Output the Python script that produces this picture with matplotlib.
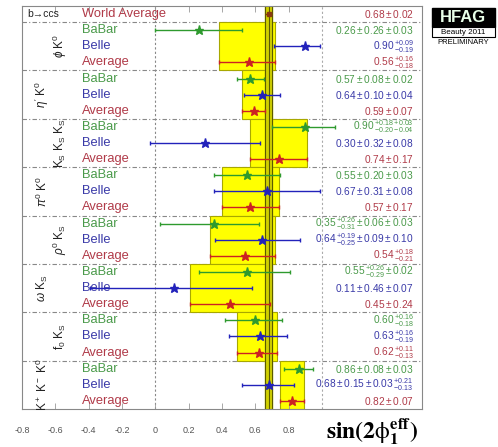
import matplotlib
matplotlib.use("Agg")
import matplotlib.pyplot as plt
import matplotlib.patches as mpatches
import numpy as np

plt.rcParams['font.family'] = ['Liberation Sans', 'DejaVu Sans']
plt.rcParams['mathtext.fontset'] = 'custom'
plt.rcParams['mathtext.rm'] = 'Liberation Sans'
plt.rcParams['mathtext.it'] = 'Liberation Sans:italic'
plt.rcParams['mathtext.bf'] = 'Liberation Sans:bold'

# ---------------- data ----------------
world_avg = 0.68
world_err = 0.02
world_text = r"$0.68 \pm 0.02$"

groups = [r"$\phi\ \mathrm{K}^0$", r"$\eta'\ \mathrm{K}^0$",
          r"$\mathrm{K_S\ K_S\ K_S}$", r"$\pi^0\ \mathrm{K}^0$",
          r"$\rho^0\ \mathrm{K_S}$", r"$\omega\ \mathrm{K_S}$",
          r"$\mathrm{f_0\ K_S}$", r"$\mathrm{K^+\ K^-\ K^0}$"]

babar_val = [0.26, 0.57, 0.90, 0.55, 0.35, 0.55, 0.60, 0.86]
babar_lo  = [0.26, 0.08, 0.20, 0.20, 0.32, 0.29, 0.18, 0.085]
babar_hi  = [0.26, 0.08, 0.18, 0.20, 0.27, 0.26, 0.16, 0.085]

belle_val = [0.90, 0.64, 0.30, 0.67, 0.64, 0.11, 0.63, 0.68]
belle_lo  = [0.19, 0.11, 0.33, 0.32, 0.28, 0.50, 0.19, 0.16]
belle_hi  = [0.09, 0.11, 0.33, 0.32, 0.23, 0.47, 0.16, 0.15]

avg_val = [0.56, 0.59, 0.74, 0.57, 0.54, 0.45, 0.62, 0.82]
avg_lo  = [0.18, 0.07, 0.17, 0.17, 0.21, 0.24, 0.13, 0.07]
avg_hi  = [0.16, 0.07, 0.17, 0.17, 0.18, 0.24, 0.11, 0.07]

babar_text = [r"$0.26 \pm 0.26 \pm 0.03$",
              r"$0.57 \pm 0.08 \pm 0.02$",
              r"$0.90\,^{+0.18}_{-0.20}\,^{+0.03}_{-0.04}$",
              r"$0.55 \pm 0.20 \pm 0.03$",
              r"$0.35\,^{+0.26}_{-0.31} \pm 0.06 \pm 0.03$",
              r"$0.55\,^{+0.26}_{-0.29} \pm 0.02$",
              r"$0.60\,^{+0.16}_{-0.18}$",
              r"$0.86 \pm 0.08 \pm 0.03$"]
belle_text = [r"$0.90\,^{+0.09}_{-0.19}$",
              r"$0.64 \pm 0.10 \pm 0.04$",
              r"$0.30 \pm 0.32 \pm 0.08$",
              r"$0.67 \pm 0.31 \pm 0.08$",
              r"$0.64\,^{+0.19}_{-0.25} \pm 0.09 \pm 0.10$",
              r"$0.11 \pm 0.46 \pm 0.07$",
              r"$0.63\,^{+0.16}_{-0.19}$",
              r"$0.68 \pm 0.15 \pm 0.03\,^{+0.21}_{-0.13}$"]
avg_text = [r"$0.56\,^{+0.16}_{-0.18}$",
            r"$0.59 \pm 0.07$",
            r"$0.74 \pm 0.17$",
            r"$0.57 \pm 0.17$",
            r"$0.54\,^{+0.18}_{-0.21}$",
            r"$0.45 \pm 0.24$",
            r"$0.62\,^{+0.11}_{-0.13}$",
            r"$0.82 \pm 0.07$"]

xticks = [-0.8, -0.6, -0.4, -0.2, 0, 0.2, 0.4, 0.6, 0.8]
xticklabels = ["-0.8", "-0.6", "-0.4", "-0.2", "0", "0.2", "0.4", "0.6", "0.8"]

# ---------------- style ----------------
C_BABAR = '#2e9a2e'
C_BELLE = '#2222bb'
C_AVG = '#cc2222'
T_BABAR = '#4a9a4a'
T_BELLE = '#3a3aa8'
T_AVG = '#b03a48'

fig = plt.figure(figsize=(4.98, 4.47), dpi=100)
ax = fig.add_axes([0.0442, 0.085, 0.803, 0.9016])
ax.set_xlim(-0.8, 1.6)
ax.set_ylim(24.5, -0.5)

n = len(groups)
rows_babar = np.arange(n) * 3 + 1
rows_belle = rows_babar + 1
rows_avg = rows_babar + 2

# yellow boxes for averages
lo_edges = np.array(avg_val) - np.array(avg_lo)
widths = np.array(avg_lo) + np.array(avg_hi)
ax.barh(rows_belle, widths, left=lo_edges, height=3, color='#ffff00',
        edgecolor='#a8a800', linewidth=0.8, zorder=1)

# world average band
ax.axvspan(world_avg - world_err, world_avg + world_err, color='#d0d000', zorder=2)
for xv in (world_avg - world_err, world_avg, world_avg + world_err):
    ax.axvline(xv, color='#5a5a00', lw=0.8, zorder=2.5)

# reference lines
ax.axvline(0, color='#888888', lw=0.8, ls=(0, (2, 2)), zorder=0.5)
ax.axvline(1.0, color='#aaaaaa', lw=0.8, ls=(0, (2, 2)), zorder=0.5)
for yv in np.arange(n) * 3 + 0.5:
    ax.axhline(yv, color='#888888', lw=0.8, ls=(0, (4, 2, 1, 2)), zorder=0.6)

# measurements
ekw = dict(fmt='*', ms=6.5, lw=1.0, capsize=1.5, zorder=4)
ax.errorbar(babar_val, rows_babar, xerr=[babar_lo, babar_hi], color=C_BABAR, **ekw)
ax.errorbar(belle_val, rows_belle, xerr=[belle_lo, belle_hi], color=C_BELLE, **ekw)
ax.errorbar(avg_val, rows_avg, xerr=[avg_lo, avg_hi], color=C_AVG, **ekw)
ax.errorbar([world_avg], [0], xerr=[[world_err], [world_err]], fmt='s', ms=3,
            color='#8a3a10', lw=1, zorder=4)

# left labels
lab_x = -0.44
fs_lab = 9.3
ax.text(-0.77, 0, "b\u2192ccs", fontsize=7.5, va='center', ha='left', color='#222222')
ax.text(lab_x, 0, "World Average", fontsize=fs_lab, color=T_AVG, va='center', ha='left')
for i in range(n):
    ax.text(lab_x, rows_babar[i], "BaBar", fontsize=fs_lab, color=T_BABAR, va='center')
    ax.text(lab_x, rows_belle[i], "Belle", fontsize=fs_lab, color=T_BELLE, va='center')
    ax.text(lab_x, rows_avg[i], "Average", fontsize=fs_lab, color=T_AVG, va='center')
    gx = -0.57 if i % 2 == 0 else -0.68
    ax.text(gx, rows_belle[i], groups[i], rotation=90, fontsize=8.5, va='center',
            ha='center', color='#222222')

# right numbers
num_x = 1.55
fs_num = 7.3
ax.text(num_x, 0, world_text, fontsize=fs_num, color=T_AVG, ha='right', va='center')
for i in range(n):
    ax.text(num_x, rows_babar[i], babar_text[i], fontsize=fs_num, color=T_BABAR,
            ha='right', va='center')
    ax.text(num_x, rows_belle[i], belle_text[i], fontsize=fs_num, color=T_BELLE,
            ha='right', va='center')
    ax.text(num_x, rows_avg[i], avg_text[i], fontsize=fs_num, color=T_AVG,
            ha='right', va='center')

# axes styling
ax.set_yticks([])
ax.set_xticks(xticks)
ax.set_xticklabels(xticklabels)
ax.tick_params(axis='x', direction='in', length=4, width=0.6, colors='#999999',
               labelcolor='#555555', labelsize=6.5, pad=12, top=True)
for s in ax.spines.values():
    s.set_color('#888888')
    s.set_linewidth(0.8)

# x label
fig.text(0.747, 0.034, r"$\mathbf{sin(2}\mathrm{\phi}_\mathbf{1}^{\mathbf{eff}}\mathbf{)}$",
         fontsize=17, ha='center', va='center', math_fontfamily='stix')

# HFAG logo
fig.add_artist(mpatches.Rectangle((0.867, 0.9396), 0.127, 0.043,
               transform=fig.transFigure, facecolor='black', edgecolor='black'))
fig.text(0.930, 0.961, "HFAG", fontsize=12, fontweight='bold', color='#e8ffe8',
         ha='center', va='center')
fig.add_artist(mpatches.Rectangle((0.867, 0.9172), 0.127, 0.0224,
               transform=fig.transFigure, facecolor='white', edgecolor='black', lw=0.8))
fig.text(0.930, 0.928, "Beauty 2011", fontsize=5.8, color='black', ha='center', va='center')
fig.text(0.930, 0.905, "PRELIMINARY", fontsize=5.5, color='black', ha='center', va='center')

fig.savefig("out.png", dpi=100)
